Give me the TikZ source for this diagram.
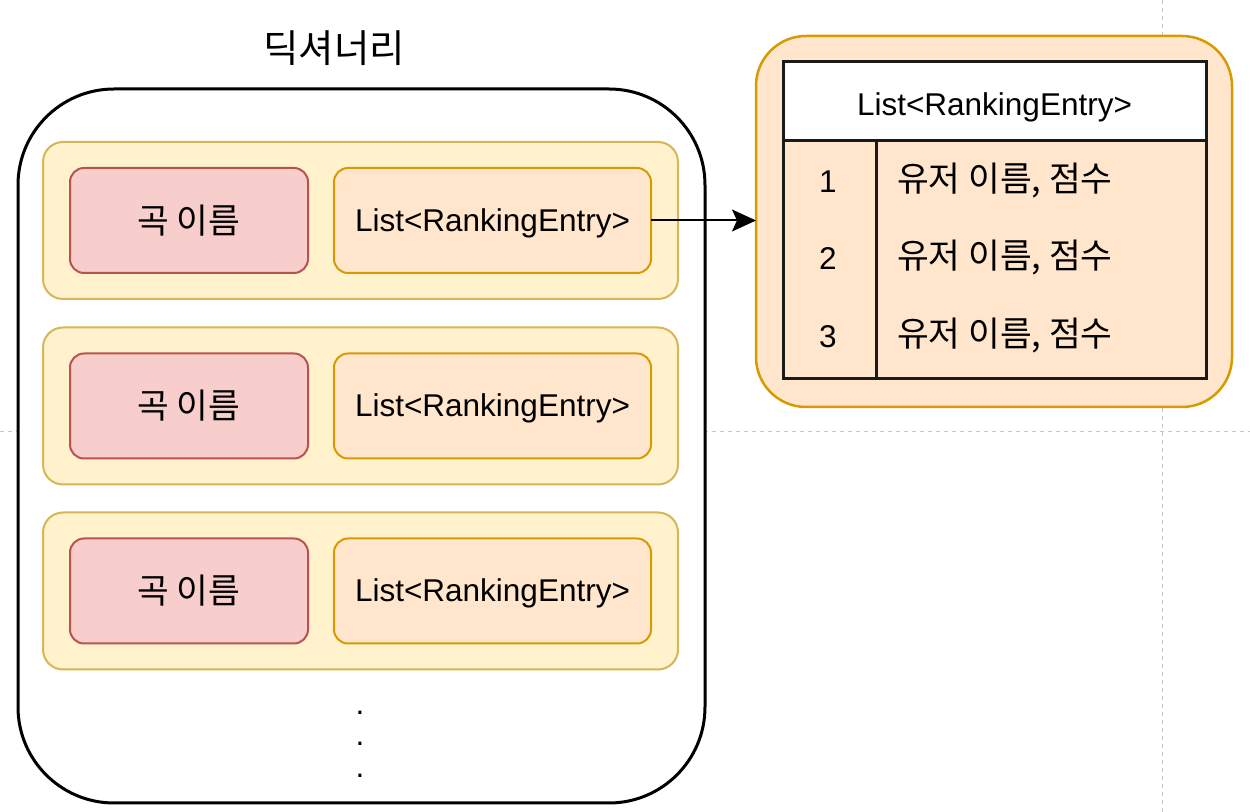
\documentclass[tikz,border=0pt]{standalone}
\usepackage{fontspec}
\setmainfont{Liberation Sans}
\newfontfamily\kr{Noto Sans CJK KR}
\usetikzlibrary{arrows.meta}

\definecolor{rowfill}{HTML}{FFF2CC}
\definecolor{rowline}{HTML}{D6B656}
\definecolor{keyfill}{HTML}{F8CECC}
\definecolor{keyline}{HTML}{B85450}
\definecolor{valfill}{HTML}{FFE6CC}
\definecolor{valline}{HTML}{D79B00}
\definecolor{tabline}{HTML}{1A1A1A}

\begin{document}
\begin{tikzpicture}[x=1pt, y=-1pt, scale=0.5, every node/.style={transform shape}]
            \tikzstyle{pagebreak} = [draw=gray!45, line width=0.5pt, dash pattern=on 2pt off 2pt]
            \tikzstyle{dictbox} = [draw=black, fill=white, line width=1.5pt, rectangle, rounded corners=48pt, minimum width=687pt, minimum height=714pt, inner sep=0pt, outer sep=0pt]
            \tikzstyle{row} = [draw=rowline, fill=rowfill, line width=1pt, rectangle, rounded corners=10pt, minimum width=635pt, minimum height=157pt, inner sep=0pt, outer sep=0pt]
            \tikzstyle{key} = [draw=keyline, fill=keyfill, line width=1pt, rectangle, rounded corners=7pt, minimum width=238pt, minimum height=105pt, inner sep=0pt, outer sep=0pt, font=\kr\fontsize{34.5}{40}\selectfont]
            \tikzstyle{val} = [draw=valline, fill=valfill, line width=1pt, rectangle, rounded corners=7pt, minimum width=317pt, minimum height=105pt, inner sep=0pt, outer sep=0pt, text height=21.6pt, text depth=0pt, font=\fontsize{31.5}{37}\selectfont]
            \tikzstyle{rankbox} = [draw=valline, fill=valfill, line width=1.25pt, rectangle, rounded corners=25pt, minimum width=476pt, minimum height=371pt, inner sep=0pt, outer sep=0pt]
            \tikzstyle{cell} = [draw=tabline, line width=1.5pt, rectangle, minimum width=423pt, inner sep=0pt, outer sep=0pt, font=\fontsize{31.5}{37}\selectfont]
            \tikzstyle{entry} = [inner sep=0pt, font=\fontsize{31.5}{37}\selectfont]
            \tikzstyle{user} = [inner sep=0pt, anchor=west, font=\kr\fontsize{34.5}{40}\selectfont]

            \useasboundingbox (0,0) rectangle (1250,812);

            % page breaks
            \draw[pagebreak] (0,431.5) -- (1250,431.5);
            \draw[pagebreak] (1162,0) -- (1162,812);

            % dictionary
            \node[font=\kr\fontsize{38.5}{44}\selectfont] (title) at (334,48) {딕셔너리};
            \node[dictbox] (dict) at (361.5,446) {};

            \node[row] (row1) at (360.5,220.5) {};
            \node[row] (row2) at (360.5,406) {};
            \node[row] (row3) at (360.5,591) {};

            \node[key] (key1) at (189,220.5) {곡 이름};
            \node[key] (key2) at (189,406) {곡 이름};
            \node[key] (key3) at (189,591) {곡 이름};

            \node[val] (val1) at (492.5,220.5) {List<RankingEntry>};
            \node[val] (val2) at (492.5,406) {List<RankingEntry>};
            \node[val] (val3) at (492.5,591) {List<RankingEntry>};

            \node[align=center, inner sep=0pt, font=\fontsize{31.5}{31.5}\selectfont] (dots) at (360,744) {.\\.\\.};

            % ranking list
            \node[rankbox] (rank) at (994,221.5) {};
            \node[cell, fill=white, minimum height=79pt, text height=27.6pt, text depth=0pt] (head) at (994.5,101.5) {List<RankingEntry>};
            \node[cell, minimum height=238pt] (body) at (994.5,260) {};
            \draw[tabline, line width=1.5pt] (876,141) -- (876,379);

            \node[entry] (n1) at (828,182) {1};
            \node[entry] (n2) at (828,259) {2};
            \node[entry] (n3) at (828,337) {3};
            \node[user] (e1) at (897,181) {유저 이름, 점수};
            \node[user] (e2) at (897,258) {유저 이름, 점수};
            \node[user] (e3) at (897,336) {유저 이름, 점수};

            \draw[-{Stealth[length=12pt, width=11pt, inset=2.5pt]}, line width=1pt] (val1.east) -- (val1.east -| rank.west);
        \end{tikzpicture}
\end{document}
